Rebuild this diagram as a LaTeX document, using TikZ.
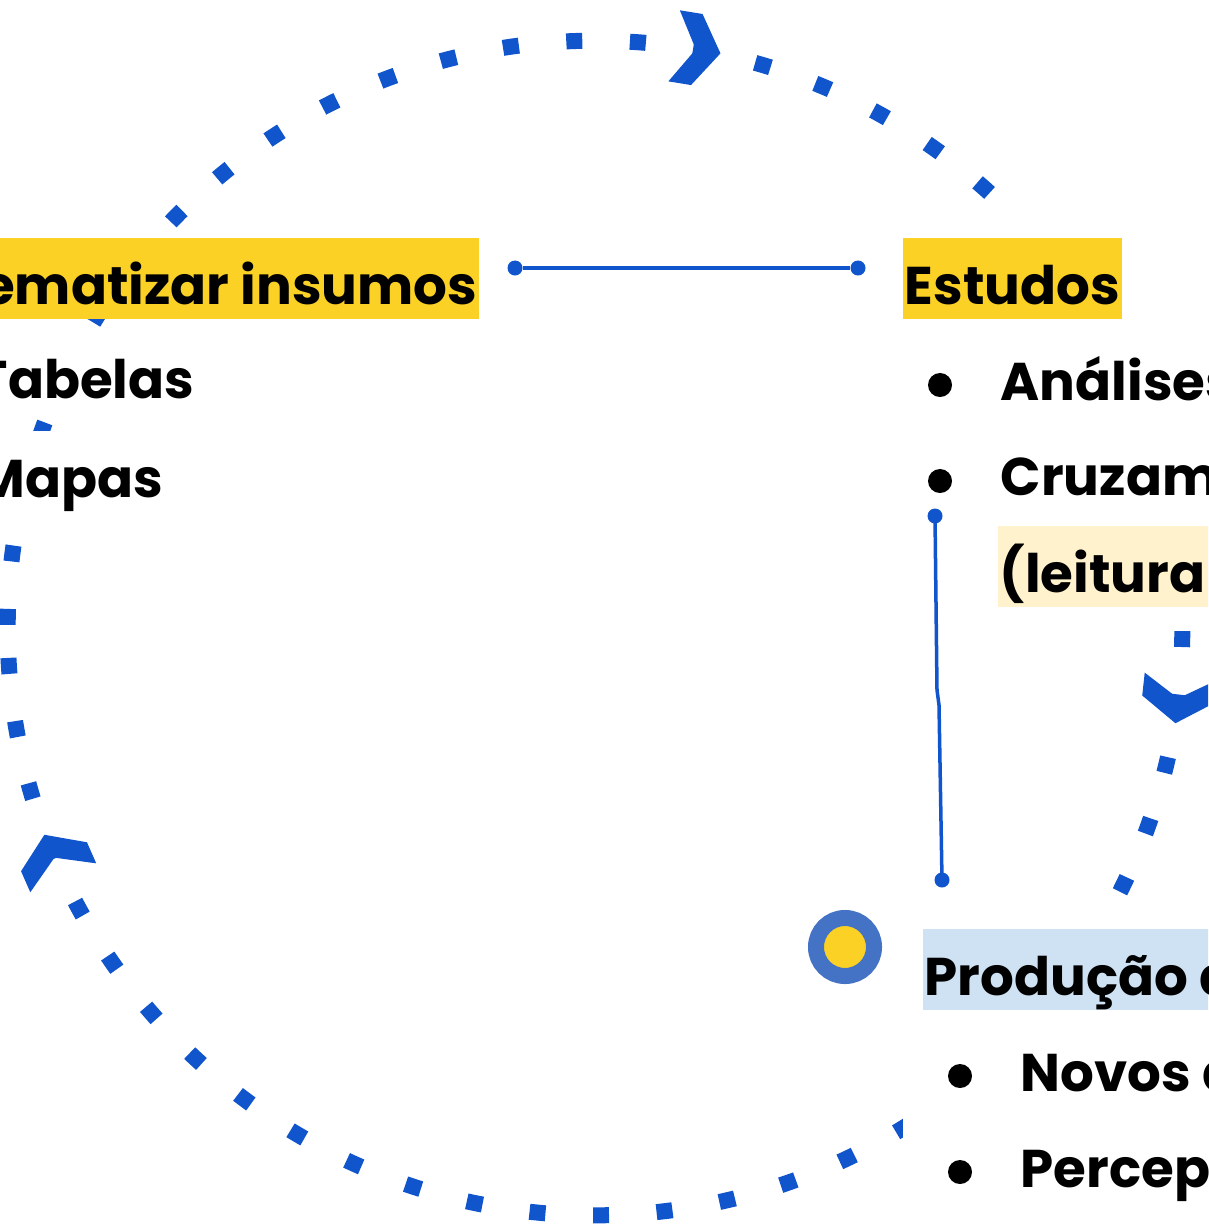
\documentclass[tikz,border=0pt]{standalone}
\usepackage{fontspec}
\setmainfont{Poppins}
\usepackage{tikz}
\usetikzlibrary{positioning}

\definecolor{ringblue}{HTML}{1155CC}
\definecolor{markblue}{HTML}{4472C4}
\definecolor{hlyellow}{HTML}{FBD125}
\definecolor{hllight}{HTML}{FFF2CC}
\definecolor{hlblue}{HTML}{CFE2F3}

\newcommand{\chevron}[1]{\fill[chev, shift={(595,-628)}, rotate=#1, xshift=5.87cm, rotate=-90]
	(-15,36) -- (8,36) -- (32,0) -- (8,-36) -- (-15,-36) -- (7,0) -- cycle;}

\begin{document}
\begin{tikzpicture}[x=0.01cm, y=0.01cm,
			dotring/.style={draw=ringblue, line width=0.16cm, dash pattern=on 0.16cm off 0.4759cm},
			chev/.style={fill=ringblue},
			hl/.style={inner xsep=0.02cm, inner ysep=0pt, text height=0.66cm, text depth=0.145cm,
				font=\fontsize{15.1}{18}\selectfont\bfseries},
			bul/.style={circle, fill=black, inner sep=0pt, minimum size=0.24cm},
			link/.style={draw=ringblue, line width=0.035cm},
			pin/.style={circle, fill=ringblue, inner sep=0pt, minimum size=0.15cm}]
			
			\useasboundingbox (0,0) rectangle (1208,-1224);
			\clip (0,0) rectangle (1208,-1224);
			
			% dotted cycle
			\draw[dotring] ([shift={(182.92:5.87cm)}]595,-628) arc[start angle=182.92, end angle=312, radius=5.87cm];
			\draw[dotring] ([shift={(314.7:5.87cm)}]595,-628) arc[start angle=314.7, end angle=541.5, radius=5.87cm];
			\foreach \a in {80.8,-6.2,203.7} {\chevron{\a}}
			
			% left block
			\node[hl, fill=hlyellow, anchor=base east] (sis) at (480,-304) {Sistematizar insumos};
			\node[hl, fill=white, anchor=base east] (tab) at (197,-398) {Tabelas};
			\node[hl, fill=white, anchor=base east] (map) at (166,-497) {Mapas};
			
			% right block
			\fill[white] (898,-215) rectangle (1208,-607);
			\node[hl, fill=hlyellow, anchor=base west] (est) at (902,-304) {Estudos};
			\node[bul] (b1) at (940,-385) {};
			\node[hl, anchor=base west] (ana) at (998,-400) {Análises};
			\node[bul] (b2) at (940,-481) {};
			\node[hl, anchor=base west] (cru) at (998,-495) {Cruzamentos};
			\node[hl, fill=hllight, anchor=base west] (lei) at (997,-592) {(leitura territorial)};
			
			% bottom block
			\fill[white] (903,-925) rectangle (1208,-1224);
			\node[hl, fill=hlblue, anchor=base west] (pro) at (922,-995) {Produção de};
			\node[bul] (b3) at (960,-1076) {};
			\node[hl, anchor=base west] (nov) at (1018,-1091) {Novos dados};
			\node[bul] (b4) at (960,-1172) {};
			\node[hl, anchor=base west] (per) at (1018,-1187) {Percepções};
			
			% connectors
			\node[pin] (p1) at (515,-268) {};
			\node[pin] (p2) at (858,-268) {};
			\draw[link] (p1) -- (p2);
			\node[pin] (p3) at (935,-516) {};
			\node[pin] (p4) at (942,-880) {};
			\draw[link] (p3.center) -- (937,-690) -- (939,-705) -- (p4.center);
			
			\node[circle, fill=hlyellow, draw=markblue, line width=0.16cm, inner sep=0pt, minimum size=0.58cm] (mark) at (845,-947) {};
		\end{tikzpicture}
\end{document}
